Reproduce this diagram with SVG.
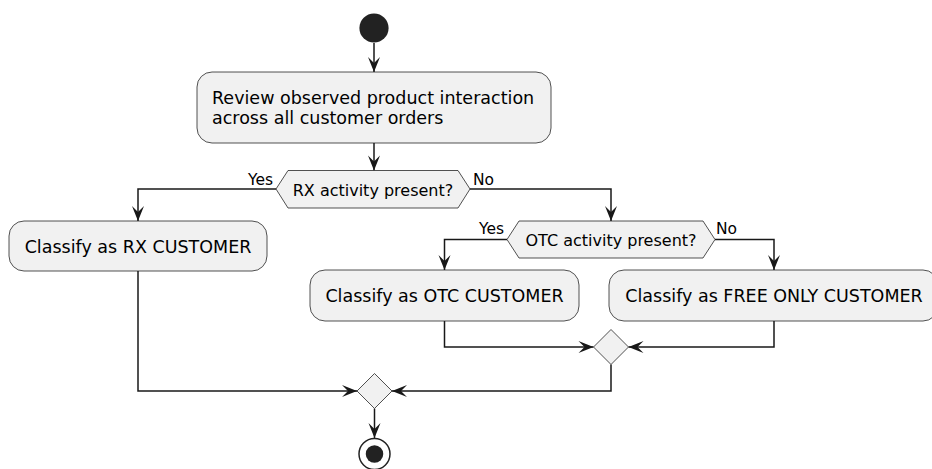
<svg xmlns="http://www.w3.org/2000/svg" width="932" height="469" viewBox="0 0 932 469">
<style>
.box{fill:#F1F1F1;stroke:#181818;stroke-width:0.75}
.t{font-family:"DejaVu Sans",sans-serif;font-size:17.5px;fill:#000}
.dt{font-family:"DejaVu Sans",sans-serif;font-size:16px;fill:#000}
.lb{font-family:"DejaVu Sans",sans-serif;font-size:15.5px;fill:#000}
.c{fill:none;stroke:#181818;stroke-width:1.5}
</style>
<defs>
<marker id="ah" markerUnits="userSpaceOnUse" orient="auto" refX="0" refY="0" markerWidth="20" markerHeight="20" overflow="visible">
<path d="M0,0 L-15,-6 L-9,0 L-15,6 Z" fill="#181818"/>
</marker>
</defs>
<rect width="932" height="469" fill="#FFFFFF"/>
<g id="connectors">
<path class="c" d="M374,43 V72" marker-end="url(#ah)"/>
<path class="c" d="M374,143 V170.5" marker-end="url(#ah)"/>
<path class="c" d="M276,189 H138 V221" marker-end="url(#ah)"/>
<path class="c" d="M470,189 H611 V221" marker-end="url(#ah)"/>
<path class="c" d="M507,239.5 H444.5 V270" marker-end="url(#ah)"/>
<path class="c" d="M715,239.5 H774 V270" marker-end="url(#ah)"/>
<path class="c" d="M444.5,321 V347 H593.5" marker-end="url(#ah)"/>
<path class="c" d="M774,321 V347 H628.5" marker-end="url(#ah)"/>
<path class="c" d="M611,364.5 V391 H392" marker-end="url(#ah)"/>
<path class="c" d="M138,271 V391 H357" marker-end="url(#ah)"/>
<path class="c" d="M374.5,408.5 V438" marker-end="url(#ah)"/>
<text class="lb" x="248" y="185">Yes</text>
<text class="lb" x="473" y="185">No</text>
<text class="lb" x="479" y="234">Yes</text>
<text class="lb" x="716" y="234">No</text>
</g>
<g id="start">
<circle cx="374" cy="28" r="14.6" fill="#222222"/>
</g>
<g id="review">
<rect class="box" x="197" y="72" width="354" height="71" rx="15" ry="15"/>
<text class="t" x="212" y="103.5">Review observed product interaction</text>
<text class="t" x="212" y="124">across all customer orders</text>
</g>
<g id="rx_decision">
<polygon class="box" points="276,189 288,170.5 458,170.5 470,189 458,208 288,208"/>
<text class="dt" x="373" y="196" text-anchor="middle">RX activity present?</text>
</g>
<g id="rx_customer">
<rect class="box" x="9" y="221" width="258" height="50" rx="15" ry="15"/>
<text class="t" x="138" y="253" text-anchor="middle">Classify as RX CUSTOMER</text>
</g>
<g id="otc_decision">
<polygon class="box" points="507,239.5 519,221 703,221 715,239.5 703,258 519,258"/>
<text class="dt" x="611" y="246" text-anchor="middle">OTC activity present?</text>
</g>
<g id="otc_customer">
<rect class="box" x="310" y="270" width="269" height="51" rx="15" ry="15"/>
<text class="t" x="444.5" y="302" text-anchor="middle">Classify as OTC CUSTOMER</text>
</g>
<g id="free_customer">
<rect class="box" x="609" y="270" width="329" height="51" rx="15" ry="15"/>
<text class="t" x="774" y="302" text-anchor="middle">Classify as FREE ONLY CUSTOMER</text>
</g>
<g id="merge_otc">
<polygon class="box" points="611,329.5 628.5,347 611,364.5 593.5,347"/>
</g>
<g id="merge_all">
<polygon class="box" points="374.5,373.5 392,391 374.5,408.5 357,391"/>
</g>
<g id="end">
<circle cx="374.5" cy="454" r="15.5" fill="#FFFFFF" stroke="#222222" stroke-width="1.5"/>
<circle cx="374.5" cy="454" r="8.75" fill="#222222"/>
</g>
</svg>
